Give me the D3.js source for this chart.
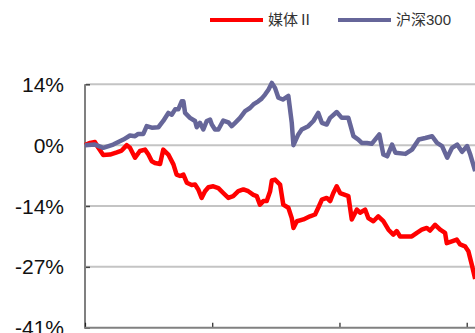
<!DOCTYPE html>
<html>
<head>
<meta charset="utf-8">
<script src="https://cdn.jsdelivr.net/npm/d3@7/dist/d3.min.js"></script>
<style>
  body { margin:0; background:#fff; }
  text { font-family: "Liberation Sans", Arial, "Noto Sans CJK SC", sans-serif; }
</style>
</head>
<body>
<div id="canvas"></div>
<script>
// series names (legend order)
var seriesNames = ['媒体Ⅱ', '沪深300'];

// 媒体Ⅱ : trading day index, cumulative return %
var mediaDays = [0,2.4,4.7,6.3,8.6,11.8,15,17.3,19.7,21.2,23.6,25.9,28.3,29.9,31.5,33,35.4,36.9,39.3,41.7,43.2,44.8,46.4,48,50.3,51.9,53.4,55,56.6,58.2,60.5,62.9,65.2,67.6,69.9,72.3,74.7,77,79.4,81,82.5,84.1,85.7,87.3,88.1,89.6,92,93.5,95.9,97.5,98.3,99.9,103,106.1,108.5,110,111.7,114,115.6,117.1,118.7,120.3,124.2,125.8,128.2,129.7,132.1,133.6,136,138.3,140.7,143.1,145.4,147,148.6,151.7,154.1,156.5,158.8,161.2,162.7,165.1,167.5,169.8,170.6,173,175.3,176.9,179.2,180.8,182.4,184];
var mediaVals = [0,0.5,0.7,-0.6,-2.2,-2.1,-1.6,-1.2,0,-0.6,-2.8,-1.3,-1,-2.1,-3.6,-4,-4.2,-1,-2.1,-4.3,-6.6,-6.9,-6.6,-8.4,-8.9,-8.8,-9.9,-11.8,-10.3,-9.4,-9.2,-9.6,-10.7,-11.8,-11.4,-10.3,-9.9,-10.3,-11.1,-11.4,-13.3,-12.5,-12.5,-10.3,-7.9,-7.7,-8.8,-13.3,-14,-16.3,-18.5,-17,-16.6,-15.9,-15.5,-14,-12.2,-11.8,-12.5,-10.7,-9.2,-10.7,-11.4,-16.6,-14.4,-15.1,-14.4,-16.3,-17,-15.9,-17,-18.9,-20,-19.2,-20.4,-20.4,-20.4,-19.6,-18.9,-18.5,-19.1,-17.8,-18.9,-19.6,-21.9,-21.5,-21.1,-22.2,-22.6,-23.7,-26.7,-29.9];

// 沪深300
var hsDays = [0,4.7,8.6,13.3,18.1,21.2,23.6,25.1,27.5,29.1,31.5,34.6,36.9,39.3,40.9,42.5,44,45.6,46.4,47.2,49.5,51.9,52.7,54.2,55.8,57.4,59,59.8,61.3,62.9,65.2,67.6,69.2,70.8,73.1,75.5,77.8,79.4,81.7,83.3,84.9,86.5,88.1,89.6,91.2,93.3,95.9,97.5,98.3,100.6,102.2,105.3,107.7,110,111.7,114,115.6,118.7,121.1,124.2,126.6,128.9,130.5,132.9,135.2,138.8,140.7,142.5,144.8,146.4,151.1,154.2,157.4,160.5,163.7,166,168.4,170.8,173.1,175.5,177.8,180.2,181.7,184];
var hsVals = [0,0.13,-0.6,0.13,1.25,2.15,2,2.5,2.5,4.25,3.9,4,5.4,7.2,6.8,8,8,9.8,9.8,7.2,6.1,5.4,4,5,3.5,5.4,5.7,4.6,3.5,3.5,5.5,5.1,4.25,5,6.1,7.6,8.3,9.1,9.8,10.4,11.3,12.4,13.9,12.8,10.6,10.2,11,5,0,2.4,3.5,4.25,5.4,7.2,5,4.6,6.1,7.4,6.1,6.1,2,1.25,0.5,0.5,0.3,2.4,-2.1,-2.5,0.13,-1.7,-1.95,-1,1.25,1.6,2,0.5,-0.2,-2.8,-0.6,0.13,-1.5,-0.2,-2.1,-5.8];

// axis ticks
var yTicks = [13.6, 0, -13.6, -27.2, -40.8];
var xTicks = [0, 60, 120, 180];

var W = 475, H = 333;
var m = {t:84.3, l:85, b:327.7};

var svg = d3.select('#canvas').append('svg')
    .attr('width', W)
    .attr('height', H);

var scaleX = d3.scaleLinear().domain([0, 180]).range([m.l, 466.7]);
var scaleY = d3.scaleLinear().domain([-40.8, 13.6]).range([m.b, m.t]);

// gridlines
svg.append('g').selectAll('line')
    .data(yTicks.filter(function(d){ return d > -40; }))
    .enter().append('line')
    .attr('x1', m.l + 1).attr('x2', W)
    .attr('y1', function(d){ return scaleY(d); })
    .attr('y2', function(d){ return scaleY(d); })
    .style('stroke', '#c4c4c4')
    .style('stroke-width', 2);

// y axis
var yAxis = d3.axisRight(scaleY).tickValues(yTicks).tickSize(5).tickFormat('');
var gy = svg.append('g').attr('transform', 'translate(' + m.l + ',0)').call(yAxis);
gy.select('.domain').remove();
gy.selectAll('.tick line').style('stroke', '#444').style('stroke-width', 1.5);
svg.append('line')
    .attr('x1', m.l).attr('x2', m.l)
    .attr('y1', m.t).attr('y2', m.b)
    .style('stroke', '#808080').style('stroke-width', 2);

svg.append('g').selectAll('text')
    .data(yTicks).enter().append('text')
    .attr('x', 64)
    .attr('y', function(d){ return scaleY(d); })
    .attr('dy', '0.36em')
    .attr('text-anchor', 'end')
    .style('font-size', '21px')
    .style('fill', '#111')
    .text(function(d){ return Math.round(d) + '%'; });

// x axis
var xAxis = d3.axisTop(scaleX).tickValues(xTicks).tickSize(5).tickFormat('');
var gx = svg.append('g').attr('transform', 'translate(0,' + m.b + ')').call(xAxis);
gx.select('.domain').remove();
gx.selectAll('.tick line').style('stroke', '#222').style('stroke-width', 1.2);
svg.append('line')
    .attr('x1', m.l - 1).attr('x2', W)
    .attr('y1', m.b).attr('y2', m.b)
    .style('stroke', '#808080').style('stroke-width', 2);

// lines
var line = d3.line()
    .x(function(d){ return scaleX(d[0]); })
    .y(function(d){ return scaleY(d[1]); });

var mediaData = d3.zip(mediaDays, mediaVals);
var hsData = d3.zip(hsDays, hsVals);

svg.append('path').datum(mediaData)
    .attr('d', line)
    .style('fill', 'none')
    .style('stroke', '#ff0000')
    .style('stroke-width', 4.5)
    .style('stroke-linejoin', 'round');

svg.append('path').datum(hsData)
    .attr('d', line)
    .style('fill', 'none')
    .style('stroke', '#666699')
    .style('stroke-width', 4.5)
    .style('stroke-linejoin', 'round');

// legend
var legend = [
  {name: seriesNames[0], color: '#ff0000', x: 210},
  {name: seriesNames[1], color: '#666699', x: 338}
];
var lg = svg.append('g').selectAll('g').data(legend).enter().append('g')
    .attr('transform', function(d){ return 'translate(' + d.x + ',20)'; });
lg.append('line')
    .attr('x1', 0).attr('x2', 53)
    .style('stroke', function(d){ return d.color; })
    .style('stroke-width', 4);
lg.append('text')
    .attr('x', 58)
    .attr('dy', '0.35em')
    .style('font-size', '15px')
    .style('fill', '#333')
    .text(function(d){ return d.name; });
</script>
</body>
</html>
